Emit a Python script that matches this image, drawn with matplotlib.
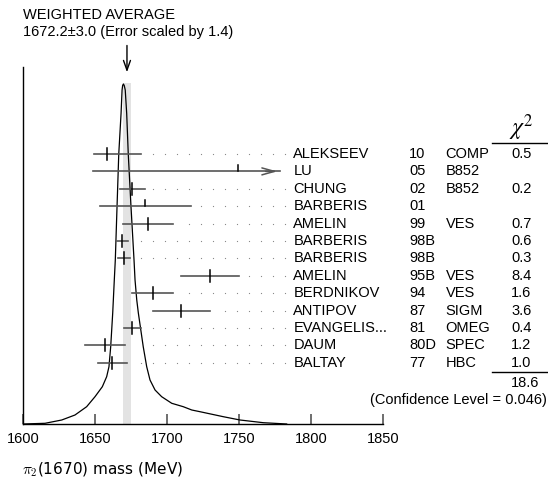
import numpy as np
import matplotlib
matplotlib.use('Agg')
import matplotlib.pyplot as plt

plt.rcParams['font.family'] = ['Liberation Sans', 'DejaVu Sans']

# measurements (MeV)
names = ['ALEKSEEV', 'LU', 'CHUNG', 'BARBERIS', 'AMELIN', 'BARBERIS', 'BARBERIS',
         'AMELIN', 'BERDNIKOV', 'ANTIPOV', 'EVANGELIS...', 'DAUM', 'BALTAY']
years = ['10', '05', '02', '01', '99', '98B', '98B', '95B', '94', '87', '81', '80D', '77']
exps = ['COMP', 'B852', 'B852', '', 'VES', '', '', 'VES', 'VES', 'SIGM', 'OMEG', 'SPEC', 'HBC']
chi2 = ['0.5', '', '0.2', '', '0.7', '0.6', '0.3', '8.4', '1.6', '3.6', '0.4', '1.2', '1.0']
values = [1658, 1749, 1676, 1685, 1687, 1669, 1670, 1730, 1690, 1710, 1676, 1657, 1662]
err_lo = [8.5, 100.5, 8.5, 31.6, 17.5, 4, 4, 20, 14, 20, 6, 14, 10]
err_hi = [24.2, 100.5, 8.5, 31.6, 17.5, 4, 4, 20, 14, 20, 6, 14, 10]
dot_start = [1, None, 1, 5, 4, 0, 0, 9, 4, 7, 1, 1, 0]

avg = 1672.2
avg_err = 3.0
chi2_total = '18.6'
conf_level = '0.046'

# ideogram curve (mass, height)
curve_m = [1600, 1615.3, 1626.9, 1636.1, 1644.2, 1650, 1655.1, 1658.1, 1659.7, 1660.9,
           1662.3, 1663.4, 1664.1, 1665.3, 1666.5, 1668.1, 1668.8, 1669.2, 1669.7, 1670.3,
           1671.0, 1672.0, 1673.1, 1675.0, 1677.1, 1677.8, 1679.0, 1680.1, 1683.5, 1685.9,
           1688.2, 1691.7, 1696.3, 1703.3, 1711.3, 1717.2, 1722.9, 1739.1, 1750.7, 1766.9,
           1783.1]
curve_h = [0, 0.7, 4, 9, 17.3, 27.3, 37.3, 47.3, 57.3, 77.3,
           111, 144, 164, 217.3, 270, 310.7, 334, 338.5, 340, 338.5,
           334, 310.7, 270, 217.3, 164, 144, 124, 111, 77.3, 57.3,
           44, 34, 27.3, 20.7, 17.3, 14, 12.3, 7.3, 4, 1.3,
           0]

fig = plt.figure(figsize=(5.48, 4.87), dpi=100)
ax = fig.add_axes([23 / 548, 63 / 487, 360 / 548, 357.3 / 487])
ax.set_xlim(1600, 1850)
ax.set_ylim(0, 357.3)

for s in ['top', 'right']:
    ax.spines[s].set_visible(False)
ax.spines['left'].set_linewidth(1.0)
ax.spines['bottom'].set_linewidth(1.0)
ax.set_yticks([])
ax.set_xticks([1600, 1650, 1700, 1750, 1800, 1850])
ax.tick_params(axis='x', direction='in', length=7, width=1.2, color='#555555',
               labelsize=10.5, pad=6)

# average band and ideogram
ax.fill_between([avg - avg_err, avg + avg_err], 0, 340.7, color='#e3e3e3', lw=0, zorder=0)
ax.plot(curve_m, curve_h, color='black', lw=0.9, zorder=3)

row0 = 270.0
dy = 17.39
dot_grid = 1681.7 + 8.333 * np.arange(13)
x_clip = 1778.5

col_name, col_year, col_exp, col_chi = 1787.7, 1868.3, 1893.5, 1938.9

for i in range(len(names)):
    y = row0 - i * dy
    lo = values[i] - err_lo[i]
    hi = values[i] + err_hi[i]
    used = chi2[i] != ''
    if hi > x_clip:
        ax.plot([lo, x_clip], [y, y], color='#555555', lw=1.2, zorder=4)
        ax.annotate('', xy=(x_clip, y), xytext=(x_clip - 12, y),
                    arrowprops=dict(arrowstyle='->,head_length=0.9,head_width=0.25',
                                    color='#555555', lw=1.1))
    else:
        ax.plot([lo, hi], [y, y], color='#555555', lw=1.2, zorder=4)
    if used:
        ax.plot([values[i], values[i]], [y - 6, y + 6], color='black', lw=1.1, zorder=5)
    else:
        ax.plot([values[i], values[i]], [y, y + 6], color='black', lw=1.1, zorder=5)
    if dot_start[i] is not None:
        xs = dot_grid[dot_start[i]:]
        ax.plot(xs, [y] * len(xs), ls='none', marker='s', ms=0.8, mew=0,
                color='#8a8a8a')
    ax.text(col_name, y, names[i], fontsize=10.5, va='center', ha='left')
    ax.text(col_year, y, years[i], fontsize=10.5, va='center', ha='left', clip_on=False)
    ax.text(col_exp, y, exps[i], fontsize=10.5, va='center', ha='left', clip_on=False)
    ax.text(col_chi, y, chi2[i], fontsize=10.5, va='center', ha='left', clip_on=False)

# chi2 header and total
ax.text(1945.8, 296, r'$\chi^2$', fontsize=17, ha='center', va='center',
        math_fontfamily='stix', clip_on=False)
ax.plot([1925.7, 1963.9], [280.7, 280.7], color='black', lw=1.0, clip_on=False)
ax.plot([1925.7, 1963.9], [52.3, 52.3], color='black', lw=1.0, clip_on=False)
ax.text(col_chi, 40.7, chi2_total, fontsize=10.5, va='center', ha='left', clip_on=False)
ax.text(1963.5, 24, '(Confidence Level = ' + conf_level + ')', fontsize=10.5,
        va='center', ha='right', clip_on=False)

# weighted average arrow
ax.annotate('', xy=(avg, 349), xytext=(avg, 381.3), annotation_clip=False,
            arrowprops=dict(arrowstyle='->,head_length=0.7,head_width=0.25',
                            color='black', lw=1.0))

fig.text(22.7 / 548, 1 - 15 / 487, 'WEIGHTED AVERAGE', fontsize=10.5, va='center')
fig.text(22.7 / 548, 1 - 31.7 / 487, '1672.2\u00b13.0 (Error scaled by 1.4)',
         fontsize=10.5, va='center')
fig.text(22 / 548, 1 - 470 / 487, r'$\pi_2$(1670) mass (MeV)', fontsize=11,
         va='center', family='DejaVu Sans', math_fontfamily='cm')

fig.savefig('out.png', dpi=100)
